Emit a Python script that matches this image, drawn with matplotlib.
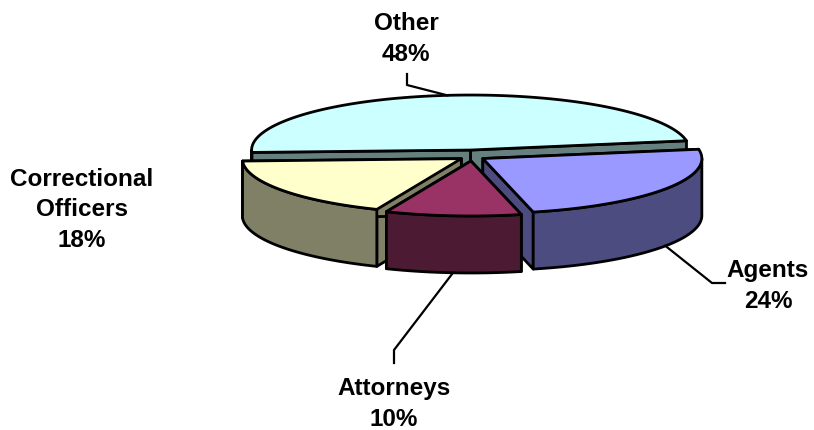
import numpy as np
import matplotlib.pyplot as plt
from matplotlib.patches import Polygon

### DATA ###
labels = ['Other', 'Agents', 'Attorneys', 'Correctional\nOfficers']
shares = [48, 24, 10, 18]
top_colors = ['#CCFFFF', '#9999FF', '#993366', '#FFFFCC']
side_colors = ['#668080', '#4C4C80', '#4C1A33', '#808066']

### LAYOUT (pixels) ###
cx, cy = 472, 156.5      # pie centre
rx, ry = 219, 55         # ellipse radii of the top face
depth = 57               # height of the side walls
start = 182.5            # angle where the first slice starts, clockwise
ex, ey = 13, 5.5         # explode offsets
label_pos = [(406, 39), (768, 286), (394, 404), (82, 210)]
# leader line bends (from the slice edge to the label)
leader_bends = [[(407, 86), (407, 75)],
                [(712, 284), (725, 284)],
                [(394, 351), (394, 364)],
                None]

fig = plt.figure(figsize=(8.14, 4.31), dpi=100)
ax = fig.add_axes([0, 0, 1, 1])
ax.set_xlim(0, 814)
ax.set_ylim(431, 0)
ax.axis('off')


def edge(ox, oy, t):
    r = np.radians(t)
    return ox + rx * np.cos(r), oy - ry * np.sin(r)


slices = []
t0 = start
for i, s in enumerate(shares):
    t1 = t0 - s * 3.6
    mid = (t0 + t1) / 2
    ox = cx + ex * np.cos(np.radians(mid))
    oy = cy - ey * np.sin(np.radians(mid))
    slices.append((i, t0, t1, mid, ox, oy))
    t0 = t1

# draw back slices first
for z, (i, t0, t1, mid, ox, oy) in enumerate(sorted(slices, key=lambda s: s[5])):
    zb = 10 * (z + 1)
    kw = dict(edgecolor='black', linewidth=2.0, joinstyle='round')
    # radial faces
    for t in (t0, t1):
        x, y = edge(ox, oy, t)
        face = [(ox, oy), (x, y), (x, y + depth), (ox, oy + depth)]
        ax.add_patch(Polygon(face, closed=True, facecolor=side_colors[i], zorder=zb, **kw))
    # outer wall, only the front half
    for a, b in ((-180, 0), (180, 360)):
        lo, hi = max(t1, a), min(t0, b)
        if hi > lo:
            ts = np.linspace(hi, lo, 60)
            xs, ys = edge(ox, oy, ts)
            wall = list(zip(xs, ys)) + list(zip(xs[::-1], ys[::-1] + depth))
            ax.add_patch(Polygon(wall, closed=True, facecolor=side_colors[i], zorder=zb + 1, **kw))
    # top face
    ts = np.linspace(t0, t1, 150)
    xs, ys = edge(ox, oy, ts)
    top = [(ox, oy)] + list(zip(xs, ys))
    ax.add_patch(Polygon(top, closed=True, facecolor=top_colors[i], zorder=zb + 2, **kw))

# labels and leader lines
for (i, t0, t1, mid, ox, oy) in slices:
    x, y = edge(ox, oy, mid)
    if np.sin(np.radians(mid)) < 0:
        y += depth
    bends = leader_bends[i]
    if bends:
        px = [x] + [p[0] for p in bends]
        py = [y] + [p[1] for p in bends]
        ax.plot(px, py, color='black', lw=1.6, zorder=100)
    lx, ly = label_pos[i]
    ax.text(lx, ly, '%s\n%d%%' % (labels[i], shares[i]), ha='center', va='center',
            fontsize=17.5, fontweight='bold', family='Liberation Sans', linespacing=1.4)

plt.savefig('out.png', dpi=100)
